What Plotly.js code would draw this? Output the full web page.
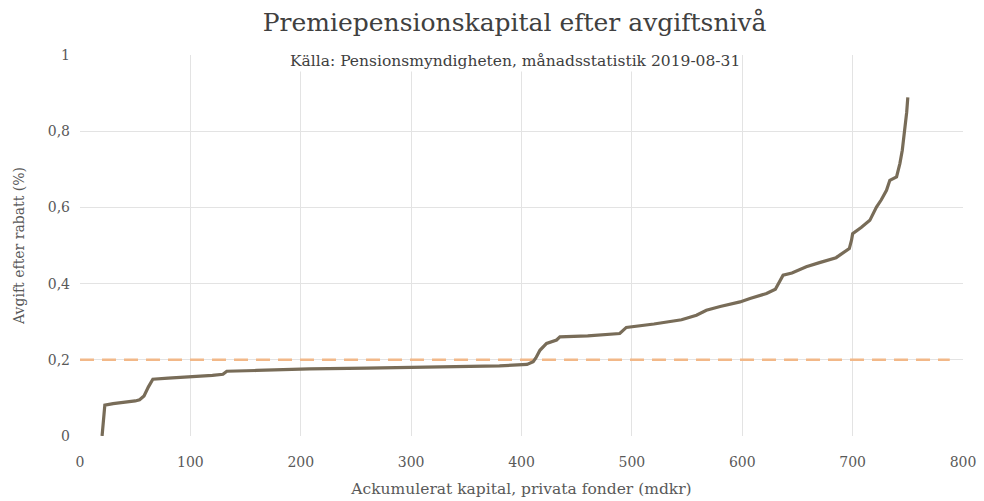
<!DOCTYPE html>
<html>
<head>
<meta charset="utf-8">
<script src="https://cdn.plot.ly/plotly-3.0.1.min.js"></script>
<style>html,body{margin:0;padding:0;background:#fff;}#chart{width:984px;height:501px;}</style>
</head>
<body>
<div id="chart"></div>
<script>
// Accumulated capital (mdkr) and fee after discount (%)
const kapital = [20, 21, 22.5, 30, 40, 50, 54, 58, 62, 64, 66, 80, 100, 120, 129.5, 133, 160, 208, 260, 320, 380, 405, 410.6, 413, 416.7, 422.7, 428, 431.8, 434.8, 460, 489, 495, 520, 545, 558.5, 567.5, 580, 598, 607, 616, 622, 630, 634, 637, 645, 658, 670, 685, 688, 697, 699, 700, 708, 715.6, 721.6, 726, 730.7, 733.7, 739.8, 742.8, 745, 747.3, 749, 750];
const avgift  = [0.0, 0.04, 0.081, 0.085, 0.088, 0.092, 0.095, 0.105, 0.129, 0.14, 0.149, 0.152, 0.155, 0.159, 0.162, 0.170, 0.172, 0.176, 0.178, 0.181, 0.184, 0.188, 0.195, 0.205, 0.225, 0.243, 0.248, 0.252, 0.260, 0.263, 0.269, 0.285, 0.294, 0.305, 0.317, 0.330, 0.340, 0.352, 0.361, 0.368, 0.374, 0.385, 0.405, 0.422, 0.428, 0.444, 0.455, 0.468, 0.474, 0.492, 0.514, 0.531, 0.548, 0.566, 0.601, 0.620, 0.645, 0.671, 0.680, 0.715, 0.750, 0.800, 0.850, 0.889];
const refX = [0, 788];
const refY = [0.2, 0.2];
const titel = 'Premiepensionskapital efter avgiftsnivå';
const undertitel = 'Källa: Pensionsmyndigheten, månadsstatistik 2019-08-31';
const xTitel = 'Ackumulerat kapital, privata fonder (mdkr)';
const yTitel = 'Avgift efter rabatt (%)';

const font = '"DejaVu Serif", "Liberation Serif", serif';

const traces = [
  {x: refX, y: refY, mode: 'lines', line: {color: '#F2B888', width: 2.5, dash: '14px,8px'}, hoverinfo: 'skip'},
  {x: kapital, y: avgift, mode: 'lines', line: {color: '#786C58', width: 3.2, shape: 'linear'}}
];

const layout = {
  width: 984, height: 501,
  margin: {l: 80, r: 21, t: 55, b: 65},
  paper_bgcolor: '#fff', plot_bgcolor: '#fff',
  showlegend: false,
  separators: ', ',
  font: {family: font, color: '#595959', size: 12},
  title: {text: titel, font: {family: font, size: 25, color: '#404040'}, x: 0.523, xanchor: 'center', y: 0.955, yanchor: 'middle'},
  xaxis: {
    range: [0, 800], dtick: 100, tick0: 0,
    showgrid: true, gridcolor: '#E3E3E3', gridwidth: 1,
    zeroline: false, showline: false, ticks: '',
    ticklabelstandoff: 16,
    tickfont: {family: font, size: 14, color: '#595959'},
    title: {text: xTitel, font: {family: font, size: 15.5, color: '#595959'}, standoff: 14}
  },
  yaxis: {
    range: [0, 1], dtick: 0.2, tick0: 0,
    showgrid: true, gridcolor: '#E3E3E3', gridwidth: 1,
    zeroline: false, showline: false, ticks: '',
    ticklabelstandoff: 9,
    tickfont: {family: font, size: 14, color: '#595959'},
    tickformat: ',.1~f',
    title: {text: yTitel, font: {family: font, size: 14, color: '#595959'}, standoff: 19}
  },
  annotations: [{
    text: undertitel, xref: 'paper', yref: 'paper', x: 0.493, y: 0.985, xanchor: 'center', yanchor: 'middle',
    showarrow: false, bgcolor: '#fff', font: {family: font, size: 15.5, color: '#404040'}
  }]
};

Plotly.newPlot('chart', traces, layout, {displayModeBar: false, staticPlot: true});
</script>
</body>
</html>
